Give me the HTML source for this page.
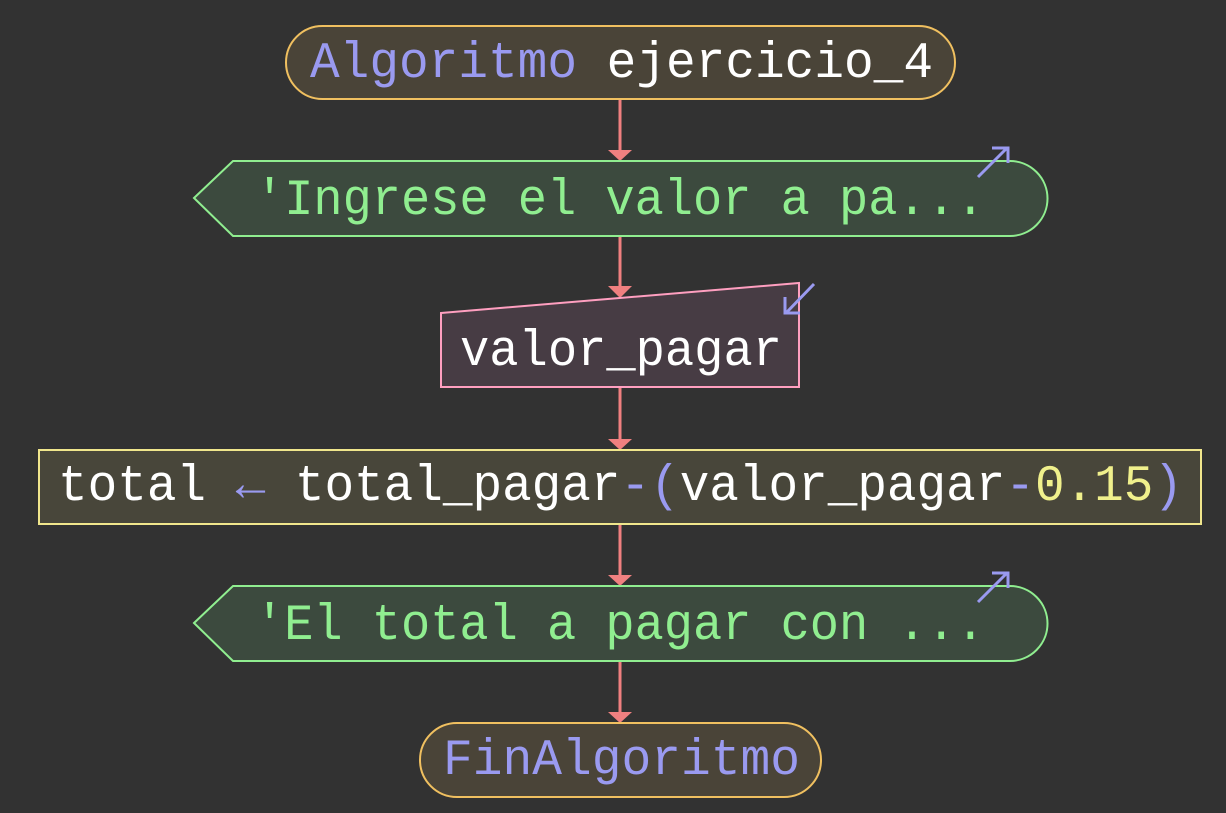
<!DOCTYPE html>
<html><head><meta charset="utf-8"><style>
html,body{margin:0;padding:0;background:#323232;}
svg{display:block}
text{font-family:"Liberation Mono","DejaVu Sans Mono",monospace;font-size:51px;}
</style></head><body>
<svg width="1226" height="813" viewBox="0 0 1226 813" xmlns="http://www.w3.org/2000/svg">
<rect width="1226" height="813" fill="#323232"/>
<g stroke="#f08080" stroke-width="3" fill="none">
<line x1="620" y1="99" x2="620" y2="152"/>
<line x1="620" y1="236" x2="620" y2="288"/>
<line x1="620" y1="387" x2="620" y2="441"/>
<line x1="620" y1="524" x2="620" y2="577"/>
<line x1="620" y1="661" x2="620" y2="714"/>
</g>
<g fill="#f08080">
<polygon points="608,150 632,150 620,161"/>
<polygon points="608,286 632,286 620,298"/>
<polygon points="608,439 632,439 620,450"/>
<polygon points="608,575 632,575 620,586"/>
<polygon points="608,712 632,712 620,723"/>
</g>
<rect x="286" y="26" width="669" height="73" rx="36.5" fill="#4a4438" stroke="#f0c060" stroke-width="2"/>
<text x="310" y="77" textLength="623" lengthAdjust="spacingAndGlyphs"><tspan fill="#9a9af0">Algoritmo</tspan><tspan fill="#ffffff"> ejercicio_4</tspan></text>
<path d="M194,198 L233,161 L1010,161 A37.5,37.5 0 0 1 1010,236 L233,236 Z" fill="#3c4a3e" stroke="#90ee90" stroke-width="2"/>
<text x="255" y="214" fill="#90ee90" textLength="730" lengthAdjust="spacingAndGlyphs">'Ingrese el valor a pa...</text>
<g stroke="#9a9af0" stroke-width="3" fill="none"><line x1="978" y1="177" x2="1007" y2="148"/><polyline points="992,148 1008,148 1008,163"/></g>
<polygon points="441,313 799,283 799,387 441,387" fill="#473c44" stroke="#ff9fc0" stroke-width="2"/>
<text x="460" y="365" fill="#ffffff" textLength="322" lengthAdjust="spacingAndGlyphs">valor_pagar</text>
<g stroke="#9a9af0" stroke-width="3" fill="none"><line x1="814" y1="284" x2="786" y2="313"/><polyline points="785,297 785,313 800,313"/></g>
<rect x="39" y="450" width="1162" height="74" fill="#48463a" stroke="#f0e68c" stroke-width="2"/>
<text x="58" y="500" textLength="1125" lengthAdjust="spacingAndGlyphs"><tspan fill="#ffffff">total </tspan><tspan fill="#9a9af0">←</tspan><tspan fill="#ffffff"> total_pagar</tspan><tspan fill="#9a9af0">-(</tspan><tspan fill="#ffffff">valor_pagar</tspan><tspan fill="#9a9af0">-</tspan><tspan fill="#f0f08c">0.15</tspan><tspan fill="#9a9af0">)</tspan></text>
<path d="M194,623 L233,586 L1010,586 A37.5,37.5 0 0 1 1010,661 L233,661 Z" fill="#3c4a3e" stroke="#90ee90" stroke-width="2"/>
<text x="255" y="639" fill="#90ee90" textLength="730" lengthAdjust="spacingAndGlyphs">'El total a pagar con ...</text>
<g stroke="#9a9af0" stroke-width="3" fill="none"><line x1="978" y1="602" x2="1007" y2="573"/><polyline points="992,573 1008,573 1008,588"/></g>
<rect x="420" y="723" width="401" height="74" rx="37" fill="#4a4438" stroke="#f0c060" stroke-width="2"/>
<text x="443" y="774" fill="#9a9af0" textLength="357" lengthAdjust="spacingAndGlyphs">FinAlgoritmo</text>
</svg>
</body></html>
